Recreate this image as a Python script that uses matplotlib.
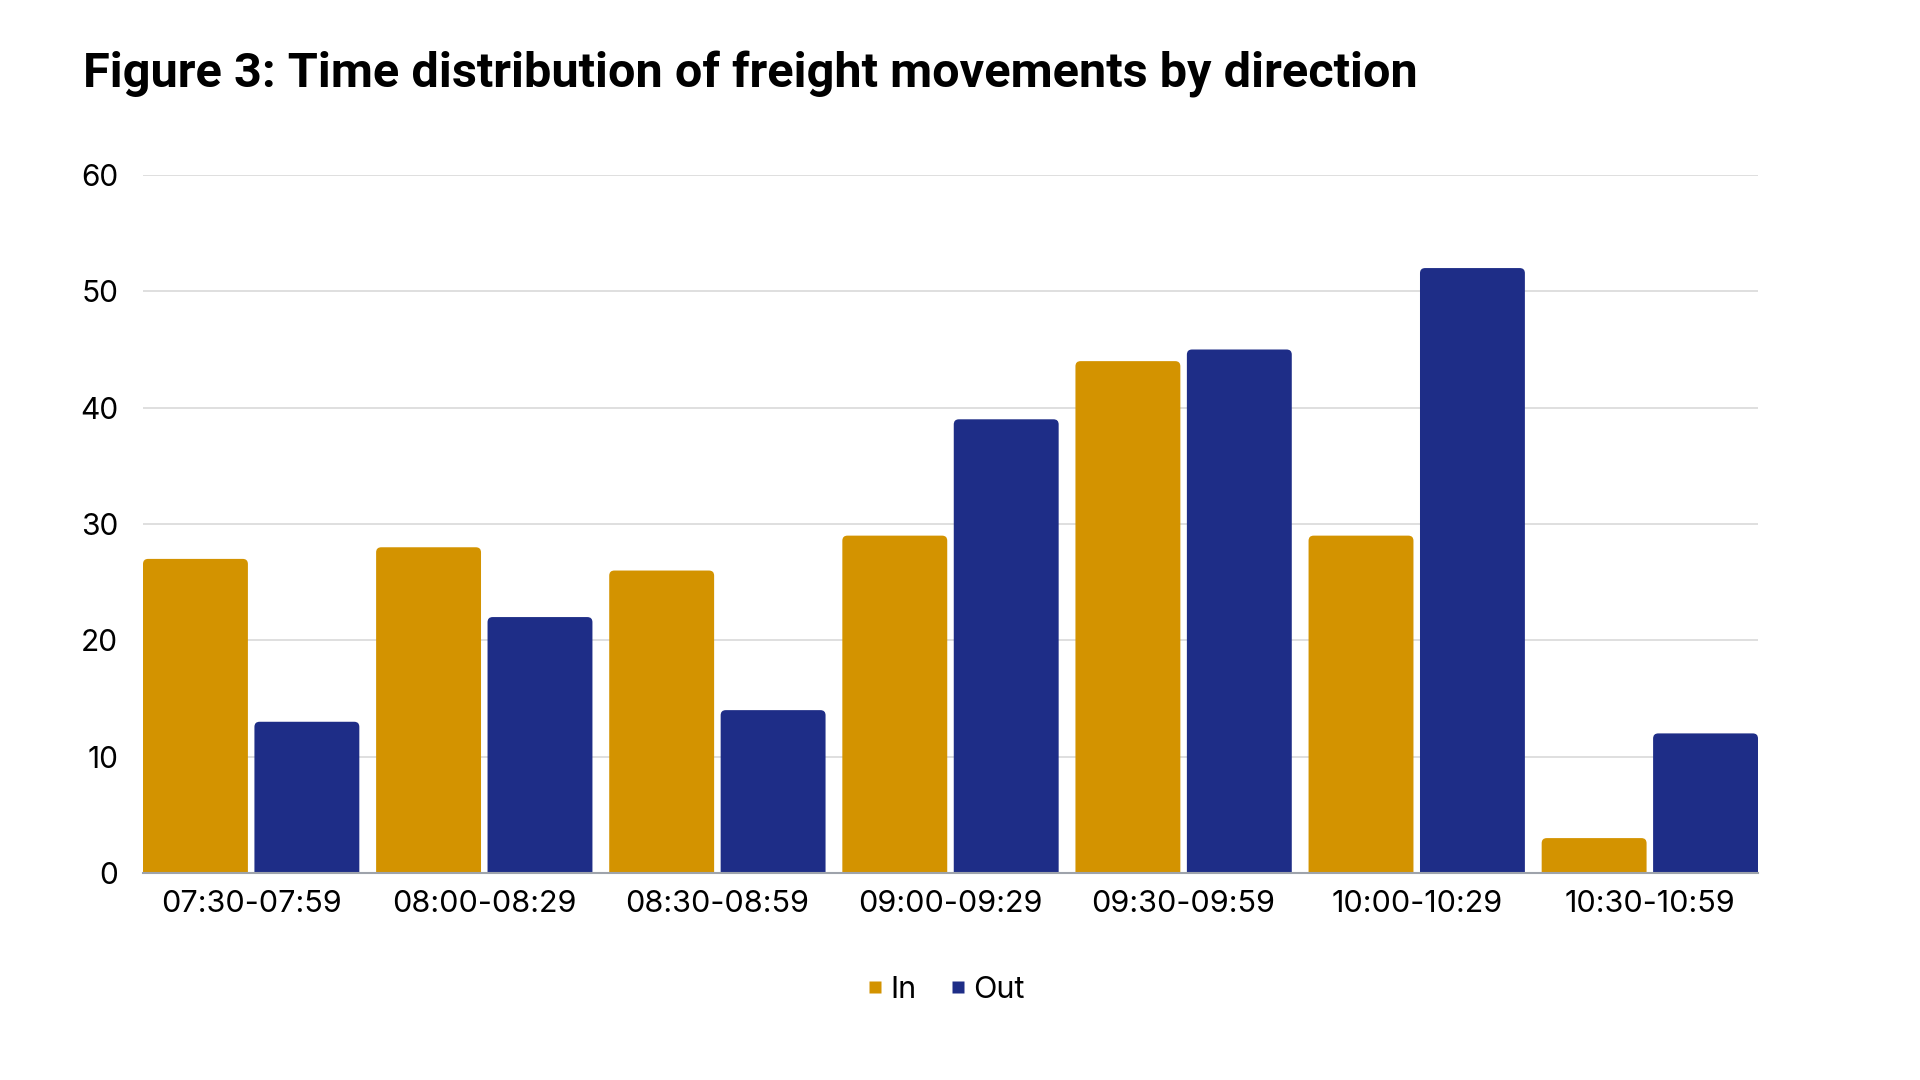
import matplotlib.pyplot as plt
import numpy as np
from matplotlib.patches import FancyBboxPatch
from matplotlib.lines import Line2D

slots = ['07:30-07:59', '08:00-08:29', '08:30-08:59', '09:00-09:29',
         '09:30-09:59', '10:00-10:29', '10:30-10:59']
inbound = [27, 28, 26, 29, 44, 29, 3]
outbound = [13, 22, 14, 39, 45, 52, 12]
series = ['In', 'Out']
colors = ['#D39300', '#1E2D87']

plt.rcParams['font.family'] = ['Inter', 'DejaVu Sans']

fig = plt.figure(figsize=(19.2, 10.8), dpi=100)
ax = fig.add_axes([143 / 1920, 1 - 873 / 1080, (1758 - 143) / 1920, (873 - 175) / 1080])

bw = 0.45     # bar width
gap = 0.028   # gap between In and Out inside a group
x = np.arange(len(slots))

def rounded_bars(xs, heights, color):
    # bars with small rounded top corners; bottom corners hidden below y=0
    for xl, h in zip(xs, heights):
        p = FancyBboxPatch((xl, -1), bw, h + 1,
                           boxstyle='round,pad=0,rounding_size=0.022',
                           mutation_aspect=20, fc=color, ec='none', zorder=3)
        ax.add_patch(p)

rounded_bars(x, inbound, colors[0])
rounded_bars(x + bw + gap, outbound, colors[1])

ax.set_xlim(x[0], x[-1] + 2 * bw + gap)
ax.set_ylim(0, 60)
ax.set_yticks(range(0, 61, 10))
ax.set_xticks(x + bw + gap / 2)
ax.set_xticklabels(slots)
ax.tick_params(axis='x', length=0, pad=12, labelsize=22)
ax.tick_params(axis='y', length=0, pad=18, labelsize=21.5)
ax.grid(axis='y', color='#d9d9d9', linewidth=1.2, zorder=0)
for s in ['top', 'right', 'left']:
    ax.spines[s].set_visible(False)
ax.spines['bottom'].set_color('#9ea3ab')
ax.spines['bottom'].set_linewidth(1.5)
ax.spines['bottom'].set_zorder(4)

fig.text(83 / 1920, 1 - 88 / 1080,
         'Figure 3: Time distribution of freight movements by direction',
         fontsize=35, fontweight='bold', va='baseline', ha='left',
         family=['Roboto', 'DejaVu Sans'])

handles = [Line2D([], [], ls='none', marker='s', markersize=8,
                  markerfacecolor=c, markeredgecolor='none') for c in colors]
fig.legend(handles, series, loc='center', bbox_to_anchor=(0.492, 1 - 990 / 1080),
           ncol=2, frameon=False, fontsize=22, handletextpad=0.15,
           columnspacing=1.0, handlelength=0.7)

fig.savefig('out.png', dpi=100, facecolor='white')
